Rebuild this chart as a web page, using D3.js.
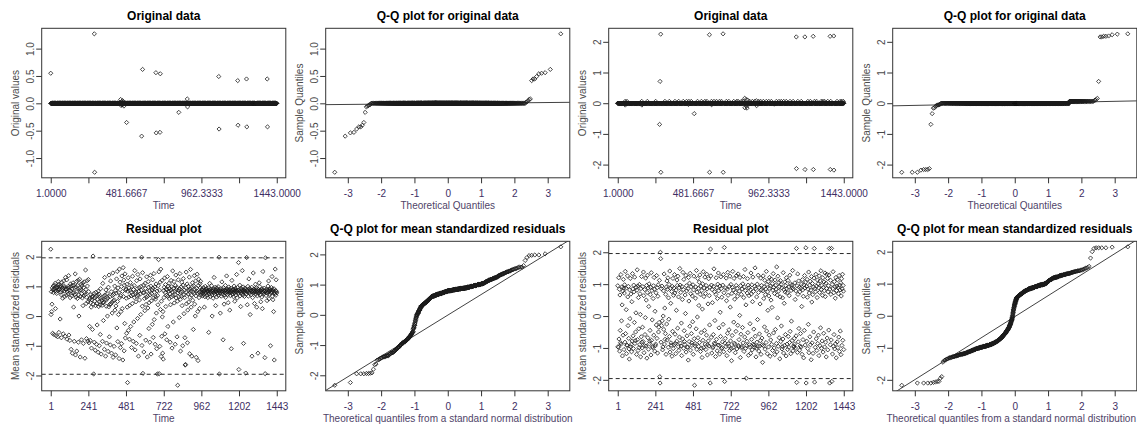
<!DOCTYPE html>
<html><head><meta charset="utf-8">
<script src="https://cdn.jsdelivr.net/npm/d3@7"></script>
<style>body{margin:0;background:#fff}svg{display:block}</style>
</head><body>
<svg id="c" width="1137" height="428"></svg>
<script>
// ---------------- DATA ----------------
const nObs = 1443;
// Panel 1: original series 1 (bulk at 0, listed departures)
const orig1Idx = [1,279,281,447,450,453,456,459,462,465,468,485,581,587,672,674,698,700,818,872,874,1073,1075,1194,1196,1250,1252,1382,1384];
const orig1Val = [0.55,1.27,-1.26,0.07,-0.04,0.03,-0.03,0.05,-0.02,0.02,-0.05,-0.35,-0.60,0.62,0.56,-0.54,-0.53,0.54,-0.165,0.08,-0.065,0.49,-0.47,0.415,-0.40,0.445,-0.43,0.445,-0.43];
const orig1Base = 0;
// Panel 3: original series 2
const orig2Idx = [268,271,275,276,489,586,587,673,674,1140,1141,1195,1196,1248,1249,1356,1357,1379,1380,811,812,820,822,826,830,886,887,49,155,452,600,1000];
const orig2Val = [-0.69,0.71,2.25,-2.25,-0.34,2.23,-2.25,2.26,-2.25,2.16,-2.13,2.16,-2.16,2.18,-2.16,2.18,-2.16,2.19,-2.18,0.16,-0.15,0.12,-0.10,-0.16,0.10,0.08,-0.08,-0.06,-0.06,-0.04,-0.05,-0.03];
const orig2SmallIdx = [48,154,243,302,366,419,455,535,557,599,631,663,694,741,769,800,843,875,913,949,981,1013,1044,1076,1172,1214,1256,1299,1320,1341,60,190,330,390,440,470,510,570,615,650,710,760,790,860,900,930,965,1030,1060,1100,1120,1150,1230,1270,1310,1360,1400,1420,1430,1440];
const orig2SmallLevel = 0.06;
const orig2Base = 0;
// Q-Q reference lines [intercept, slope]
const qqLine1 = [-0.003, 0.0058];
const qqLine2 = [-0.005, 0.022];
const qqLine3 = [-0.01, 0.68];
const qqLine4 = [-0.03, 0.655];
// Residual series (hundredths), observed at every second time point 1,3,...,1443
const res1 = [
225,5,82,15,40,95,-58,88,101,79,-62,92,104,85,110,25,97,-66,83,76,
94,100,-70,87,116,106,-55,91,89,98,-10,103,80,72,-73,114,99,86,60,93,
-60,118,102,84,65,96,-68,130,89,91,70,122,-78,81,94,74,100,136,-64,87,
97,-82,62,108,85,-112,101,68,92,-125,77,112,104,30,79,-85,95,72,142,-131,
64,98,116,-118,83,59,103,120,-88,71,0,86,124,93,-138,66,88,107,-80,75,
102,61,111,35,-92,96,69,115,80,-142,73,155,89,42,-76,63,119,101,-84,48,
123,82,-90,55,-35,
60,-82,45,72,30,-108,55,64,-45,68,202,40,-195,76,-88,50,62,-115,35,80,
66,-95,42,-30,57,70,-122,84,32,74,-100,48,38,-62,92,59,-128,52,63,36,
-85,110,44,-15,67,47,-112,130,53,71,-135,88,33,-91,56,75,0,61,-119,97,
31,138,-70,39,65,-97,118,41,82,-125,46,10,69,145,-139,51,73,-102,54,101,
20,86,-131,34,77,125,-40,150,49,-86,95,5,79,-143,158,62,114,-106,68,15,
99,-93,135,25,83,-148,163,66,121,-117,104,-25,142,-74,87,
91,60,-58,107,30,-224,83,129,-48,64,95,-78,36,86,113,-35,68,80,-106,99,
42,134,72,-85,89,-20,103,62,153,-114,76,81,48,-92,119,66,92,-8,140,70,
-135,84,96,54,-65,125,74,5,100,87,198,-99,33,146,-193,78,104,-121,79,59,
18,110,93,-81,39,63,132,82,-138,67,27,116,97,-42,45,85,-88,71,137,101,
-128,51,75,88,-28,122,94,-72,61,143,-12,80,98,-95,57,65,108,10,-110,84,
-195,69,38,102,190,149,-194,87,-102,114,22,158,-136,50,-68,120,-3,-125,15,-145,
85,62,97,128,-60,79,106,32,91,70,-80,88,133,66,-35,101,83,110,59,93,
75,-88,38,87,120,64,99,-108,81,152,69,-20,94,116,44,84,72,-95,103,138,
61,89,96,-70,50,-233,78,122,86,65,-5,92,143,56,-118,80,98,67,114,35,
83,-100,104,126,71,8,88,62,-73,-165,-163,95,148,41,79,108,-90,20,74,100,
47,87,131,-127,63,91,157,85,30,70,-135,99,112,53,82,-45,102,76,136,40,
89,0,118,68,-139,93,84,141,77,15,-150,103,124,62,80,25,109,95,117,70,
82,75,88,91,68,85,79,96,72,84,30,87,65,100,81,77,89,93,70,83,
86,62,80,95,-55,74,88,110,83,66,90,79,85,102,71,0,84,87,60,92,
78,130,82,73,89,97,35,81,86,64,94,80,76,88,99,69,83,198,-195,87,
79,10,85,92,67,84,115,81,74,89,-80,96,82,40,70,86,78,103,63,88,
84,135,80,91,72,87,45,83,98,76,89,20,81,69,94,85,-110,79,120,86,
73,90,82,65,88,101,78,50,84,93,71,87,80,140,83,61,96,86,77,180,
-180,89,82,104,68,85,32,80,92,75,87,153,83,70,98,-92,81,88,66,94,
84,79,-192,90,74,197,86,38,82,100,67,88,125,80,93,76,5,85,89,72,
83,97,-135,80,62,87,145,84,91,78,42,86,81,107,73,89,95,30,82,68,
85,-125,90,77,84,112,80,99,71,86,48,83,88,64,92,25,81,150,79,87,
74,94,83,-140,-194,196,85,69,90,80,52,87,76,101,82,118,58,88,84,73,
91,-100,86,78,96,81,133,67,89,55,84,15,92,-148,80,75,158,86,70,122,83,78
];
const res2 = [
95,-96,-98,120,-72,84,-110,66,-45,-84,130,-88,-15,91,35,-125,78,-60,115,88,
-105,72,98,-82,140,-55,87,20,-118,-91,-92,126,60,-30,93,-70,-103,-135,82,-8,
118,-96,69,-89,-112,45,-78,133,85,-62,-102,97,76,-20,122,-86,-77,-50,10,90,
-120,81,145,-74,94,-108,58,-40,-99,99,-90,70,5,-128,86,-65,124,-82,-100,-35,
92,-80,138,64,-115,-93,83,-58,-5,119,-94,50,96,-132,74,128,-68,88,-104,30,
101,-87,-79,-45,67,90,-122,136,-76,80,-12,-95,-99,55,95,-60,121,84,-110,15,
-93,-88,73,-28,127,-70,89,-116,62,98,-50,-35,-20,112,-190,-210,200,180,-82,86,
-30,94,-15,-106,-97,0,79,-42,132,-88,25,-73,-55,68,-120,91,-25,110,-75,84,
120,-98,57,-10,99,-64,141,-113,87,40,-84,-91,77,-126,93,-48,118,-102,65,88,
-90,130,72,-57,-86,-118,81,18,-79,113,96,-38,125,-96,60,-108,89,-66,149,97,
-85,74,-94,-22,-124,92,52,-72,137,83,-101,115,-46,-80,-89,66,8,128,-113,95,
79,-62,-98,-97,86,-138,121,47,-80,103,-32,134,-107,70,92,-55,-84,-92,63,-18,
98,-120,82,125,-71,-217,-93,-86,56,91,-40,143,-104,75,-3,118,-68,87,-95,33,
106,-83,129,68,-111,94,-52,-101,80,-130,22,101,-76,139,-99,61,88,-45,122,-88,
71,-105,96,-60,131,85,-122,-90,38,-78,117,-94,64,-28,90,-210,210,126,-67,97,
-116,83,42,-100,-96,-58,93,148,-85,76,-14,-87,-127,68,120,-73,89,-109,55,100,
-91,135,79,-37,-92,-119,94,12,-64,123,86,-102,59,-99,-81,97,-26,130,-112,73,
215,-205,-85,-70,88,-96,119,48,-124,84,-54,137,65,-87,-94,-43,93,-108,125,28,
-78,99,-102,-140,71,-61,90,140,-99,82,-19,118,-85,53,-89,-115,74,-48,96,127,
-103,87,62,-29,132,-92,-96,-74,78,2,121,-130,95,-57,68,-100,-96,85,-36,101,
-84,124,58,-111,91,-66,146,80,-101,35,-195,-93,-79,72,117,-52,97,-123,88,64,
-90,-97,-24,83,-117,135,69,-73,98,-106,45,122,-88,77,-41,-91,-98,93,151,-63,
86,-128,-101,60,-82,100,-11,-95,128,74,-110,89,-56,-94,38,-77,119,-120,82,96,
-69,-90,-145,79,126,-93,55,92,-34,112,-104,67,85,-83,140,-47,99,-118,76,18,
108,-97,63,-60,121,87,-126,94,-75,50,116,-89,27,102,-108,81,133,-53,90,-100,
71,-121,113,-42,96,84,-86,154,-112,66,-6,125,-95,78,105,-68,92,-134,60,111,
-80,99,-31,88,-103,-96,57,-72,136,-116,83,40,-92,107,75,-58,95,-125,120,86,
-88,73,-105,112,-64,91,-98,64,-83,128,-48,101,-118,80,-16,97,-77,89,143,-109,
85,-94,-97,-70,-88,104,52,-100,79,-62,212,-208,95,-114,132,68,-81,110,-39,90,
-107,76,-94,-55,87,-97,100,30,-120,114,82,-74,62,-131,98,-45,127,88,-91,106,
214,-210,93,-79,115,59,-102,84,-26,138,-115,72,97,-65,109,-90,81,-137,124,44,
-84,102,67,-117,91,-50,119,212,-207,86,-98,76,131,-71,94,-108,58,113,-86,101,
-60,88,-124,126,74,-93,110,-37,142,83,-101,96,-78,65,120,-113,90,-54,107,79,
-97,135,61,-82,103,-128,87,131,-69,118,-106,76,95,-44,129,212,-210,84,-90,112,
68,-75,212,-205,99,-119,86,139,-95,73,-58,108,-103,92,56,-87,121,-131,80,94,
-81,114,-99,89,70,-66,127,-111,97,82,-47,104,-121,63,117,-92,85,131,-76,96,
78,-105
];
const residualBand = [-1.96, 1.96];
// Tick positions / labels
const timeTicks = [1,241.3333,481.6667,722,962.3333,1202.6667,1443];
const timeTickLabels = ["1.0000","","481.6667","","962.3333","","1443.0000"];
const timeTicksRes = [1,241,481,722,962,1202,1443];
const timeTickLabelsRes = ["1","241","481","722","962","1202","1443"];
const qTicks = [-3,-2,-1,0,1,2,3];
const qTickLabels = ["-3","-2","-1","0","1","2","3"];
const yTicksHalf = [-1,-0.5,0,0.5,1];
const yTicksHalfLabels = ["-1.0","-0.5","0.0","0.5","1.0"];
const yTicksUnit = [-2,-1,0,1,2];
const yTicksUnitLabels = ["-2","-1","0","1","2"];

// ---------------- HELPERS ----------------
const FONT = '"Liberation Sans", Arial, Helvetica, sans-serif';
const W = 1137;
const svg = d3.select('#c');
const colX = [0, 284, 567, 851];
const rowY = [0.3, 213.3];

function ext(lo, hi){ const d = (hi - lo) * 0.04; return [lo - d, hi + d]; }
function qnorm(p){
  const a=[-3.969683028665376e+01,2.209460984245205e+02,-2.759285104469687e+02,1.383577518672690e+02,-3.066479806614716e+01,2.506628277459239e+00];
  const b=[-5.447609879822406e+01,1.615858368580409e+02,-1.556989798598866e+02,6.680131188771972e+01,-1.328068155288572e+01];
  const c=[-7.784894002430293e-03,-3.223964580411365e-01,-2.400758277161838e+00,-2.549732539343734e+00,4.374664141464968e+00,2.938163982698783e+00];
  const d=[7.784695709041462e-03,3.224671290700398e-01,2.445134137142996e+00,3.754408661907416e+00];
  const pl=0.02425;
  if(p<pl){const q=Math.sqrt(-2*Math.log(p));return (((((c[0]*q+c[1])*q+c[2])*q+c[3])*q+c[4])*q+c[5])/((((d[0]*q+d[1])*q+d[2])*q+d[3])*q+1);}
  if(p>1-pl){const q=Math.sqrt(-2*Math.log(1-p));return -(((((c[0]*q+c[1])*q+c[2])*q+c[3])*q+c[4])*q+c[5])/((((d[0]*q+d[1])*q+d[2])*q+d[3])*q+1);}
  const q=p-0.5,r=q*q;return (((((a[0]*r+a[1])*r+a[2])*r+a[3])*r+a[4])*r+a[5])*q/(((((b[0]*r+b[1])*r+b[2])*r+b[3])*r+b[4])*r+1);
}
// sorted sample vs normal plotting positions; step = rank spacing within nObs
function qqPoints(vals, step){
  const s = vals.slice().sort((u,v)=>u-v);
  const n = s.length, tot = step*(n-1)+1;
  return s.map((v,i)=>[qnorm((step*i+0.5)/tot), v]);
}
function buildSeries(base, idx, val){
  const arr = new Array(nObs).fill(base);
  idx.forEach((k,j)=>{ arr[k-1] = val[j]; });
  return arr;
}

let clipN = 0;
function drawPanel(o){
  const L=o.ox+41.7, R=o.ox+285.8, T=o.oy+28, B=o.oy+177.5;
  const x=d3.scaleLinear().domain(o.xd).range([L,R]);
  const y=d3.scaleLinear().domain(o.yd).range([B,T]);
  const g=svg.append('g');
  const cid='clip'+(clipN++);
  svg.append('clipPath').attr('id',cid).append('rect').attr('x',L).attr('y',T).attr('width',R-L).attr('height',B-T);
  const pg=g.append('g').attr('clip-path',`url(#${cid})`);
  (o.hlines||[]).forEach(h=>{
    pg.append('line').attr('x1',L).attr('x2',R).attr('y1',y(h)).attr('y2',y(h))
      .attr('stroke','#111').attr('stroke-width',0.9).attr('stroke-dasharray','4,3');
  });
  if(o.abline){
    const [a,b]=o.abline;
    pg.append('line').attr('x1',x(o.xd[0])).attr('x2',x(o.xd[1]))
      .attr('y1',y(a+b*o.xd[0])).attr('y2',y(a+b*o.xd[1]))
      .attr('stroke','#111').attr('stroke-width',0.8);
  }
  const r=2.1;
  pg.selectAll('path.pt').data(o.pts).join('path').attr('class','pt')
    .attr('d',d=>`M${x(d[0])},${y(d[1])-r}l${r},${r}l${-r},${r}l${-r},${-r}z`)
    .attr('fill','none').attr('stroke','#1a1a1a').attr('stroke-width',0.8);
  // box
  g.append('rect').attr('x',L).attr('y',T).attr('width',R-L).attr('height',B-T)
    .attr('fill','none').attr('stroke','#333').attr('stroke-width',1);
  // x axis
  const axg=g.append('g').attr('transform',`translate(0,${B})`)
    .call(d3.axisBottom(x).tickValues(o.xt).tickFormat((d,i)=>o.xl[i]).tickSize(5.5));
  axg.attr('font-family',FONT).attr('font-size',10);
  axg.select('.domain').remove();
  axg.selectAll('line').attr('stroke','#333');
  axg.selectAll('text').attr('y',19.5).attr('dy',null).attr('fill','#3d2e63');
  // y axis
  const ayg=g.append('g').attr('transform',`translate(${L},0)`)
    .call(d3.axisLeft(y).tickValues(o.yt).tickFormat((d,i)=>o.yl[i]).tickSize(5.5));
  ayg.attr('font-family',FONT).attr('font-size',10);
  ayg.select('.domain').remove();
  ayg.selectAll('line').attr('stroke','#333');
  ayg.selectAll('text').attr('x',0).attr('dy',null).attr('text-anchor','middle')
    .attr('transform',`translate(${-(L-o.ox-33.8)},0) rotate(-90)`).attr('fill','#4a4a4a');
  // titles
  g.append('text').attr('x',(L+R)/2).attr('y',o.oy+20).attr('text-anchor','middle')
    .attr('font-family',FONT).attr('font-size',12).attr('font-weight','bold').attr('fill','#000').text(o.title);
  const xt = g.append('text').attr('x',(L+R)/2).attr('y',B+31).attr('text-anchor','middle')
    .attr('font-family',FONT).attr('font-size',10).attr('fill','#4f4468').text(o.xlab);
  const bb = xt.node().getBBox();
  if (bb.x + bb.width > W - 1) xt.attr('x', (L+R)/2 - (bb.x + bb.width - (W - 1)));
  g.append('text').attr('transform',`translate(${o.ox+19},${(T+B)/2}) rotate(-90)`).attr('text-anchor','middle')
    .attr('font-family',FONT).attr('font-size',10).attr('fill','#4a4a4a').text(o.ylab);
}

// ---------------- BUILD ----------------
const orig1 = buildSeries(orig1Base, orig1Idx, orig1Val);
const orig2 = buildSeries(orig2Base, orig2SmallIdx, orig2SmallIdx.map(()=>orig2SmallLevel));
orig2Idx.forEach((k,j)=>{ orig2[k-1] = orig2Val[j]; });
const r1 = res1.map(v=>v/100), r2 = res2.map(v=>v/100);

const timeDom = ext(1, nObs);
function symDom(a){ const m=d3.max(a,v=>Math.abs(v)); return ext(-m,m); }

// row 1
[[orig1, qqLine1, yTicksHalf, yTicksHalfLabels, 0],[orig2, qqLine2, yTicksUnit, yTicksUnitLabels, 2]].forEach(([s, ql, yt, yl, c])=>{
  const yd = ext(d3.min(s), d3.max(s));
  drawPanel({ox:colX[c], oy:rowY[0], title:'Original data', xlab:'Time', ylab:'Original values',
    pts:s.map((v,i)=>[i+1,v]), xd:timeDom, yd, xt:timeTicks, xl:timeTickLabels, yt, yl});
  const qp = qqPoints(s, 1);
  drawPanel({ox:colX[c+1], oy:rowY[0], title:'Q-Q plot for original data', xlab:'Theoretical Quantiles', ylab:'Sample Quantiles',
    pts:qp, xd:ext(qp[0][0], qp[qp.length-1][0]), yd, xt:qTicks, xl:qTickLabels, yt, yl, abline:ql});
});
// row 2
[[r1, qqLine3, 0],[r2, qqLine4, 2]].forEach(([s, ql, c])=>{
  drawPanel({ox:colX[c], oy:rowY[1], title:'Residual plot', xlab:'Time', ylab:'Mean standardized residuals',
    pts:s.map((v,i)=>[1+2*i, v]), xd:timeDom, yd:symDom(s), xt:timeTicksRes, xl:timeTickLabelsRes,
    yt:yTicksUnit, yl:yTicksUnitLabels, hlines:residualBand});
  const qp = qqPoints(s, 2);
  drawPanel({ox:colX[c+1], oy:rowY[1], title:'Q-Q plot for mean standardized residuals',
    xlab:'Theoretical quantiles from a standard normal distribution', ylab:'Sample quantiles',
    pts:qp, xd:ext(qp[0][0], qp[qp.length-1][0]), yd:ext(d3.min(s), d3.max(s)), xt:qTicks, xl:qTickLabels,
    yt:yTicksUnit, yl:yTicksUnitLabels, abline:ql});
});
</script>
</body></html>
